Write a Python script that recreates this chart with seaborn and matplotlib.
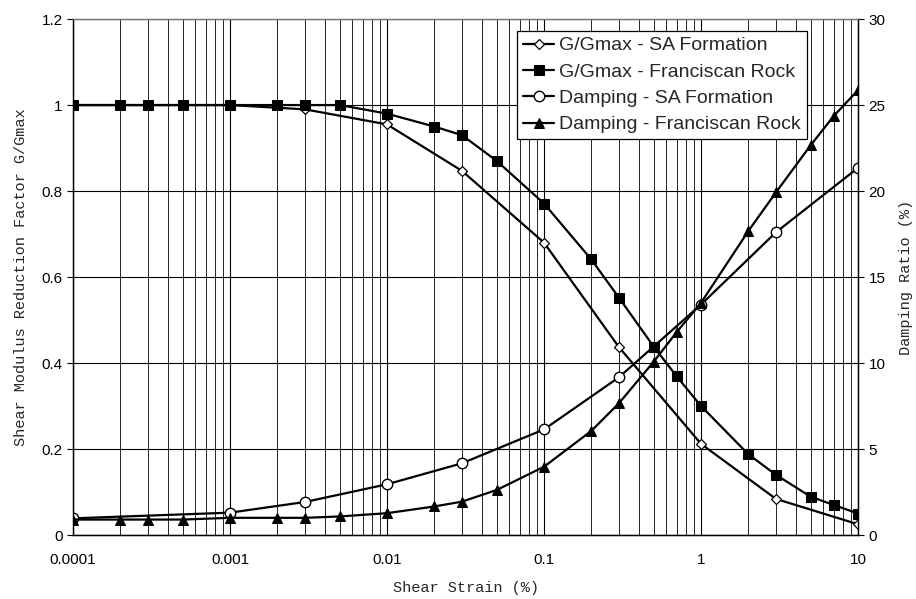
import matplotlib
matplotlib.use("Agg")
import matplotlib.pyplot as plt
import seaborn as sns
from matplotlib.ticker import FixedLocator, FixedFormatter, LogLocator, NullFormatter

# strain (%) for SA Formation curves
strain_sa = [0.0001, 0.001, 0.003, 0.01, 0.03, 0.1, 0.3, 1, 3, 10]
ggmax_sa = [1.0, 1.0, 0.99, 0.955, 0.847, 0.68, 0.437, 0.212, 0.084, 0.025]
damp_sa = [0.97, 1.3, 1.92, 2.95, 4.17, 6.14, 9.17, 13.4, 17.6, 21.35]

# strain (%) for Franciscan Rock curves
strain_fr = [0.0001, 0.0002, 0.0003, 0.0005, 0.001, 0.002, 0.003, 0.005,
             0.01, 0.02, 0.03, 0.05, 0.1, 0.2, 0.3, 0.5, 0.7, 1, 2, 3, 5, 7, 10]
ggmax_fr = [1.0, 1.0, 1.0, 1.0, 1.0, 1.0, 1.0, 1.0,
            0.98, 0.95, 0.93, 0.87, 0.771, 0.641, 0.552, 0.438, 0.369, 0.30,
            0.188, 0.14, 0.089, 0.07, 0.05]
damp_fr = [0.9, 0.9, 0.9, 0.9, 1.0, 1.0, 1.0, 1.08,
           1.27, 1.66, 1.94, 2.62, 3.97, 6.05, 7.66, 10.08, 11.8, 13.5,
           17.67, 19.92, 22.67, 24.36, 25.87]

x_ticks = [0.0001, 0.001, 0.01, 0.1, 1, 10]
x_labels = ["0.0001", "0.001", "0.01", "0.1", "1", "10"]
y_ticks = [0, 0.2, 0.4, 0.6, 0.8, 1.0, 1.2]
y_labels = ["0", "0.2", "0.4", "0.6", "0.8", "1", "1.2"]
y2_ticks = [0, 5, 10, 15, 20, 25, 30]

sns.set_style("white")
plt.rcParams["font.family"] = ["Liberation Sans", "DejaVu Sans"]

fig = plt.figure(figsize=(9.16, 5.99), dpi=100)
ax = fig.add_axes([0.0797, 0.1068, 0.8570, 0.8614])
ax.set_xscale("log")
ax.set_xlim(0.0001, 10)
ax.set_ylim(0, 1.2)
ax2 = ax.twinx()
ax2.set_ylim(0, 30)

# grid
ax.xaxis.set_major_locator(FixedLocator(x_ticks))
ax.xaxis.set_major_formatter(FixedFormatter(x_labels))
ax.xaxis.set_minor_locator(LogLocator(base=10, subs=range(2, 10), numticks=20))
ax.xaxis.set_minor_formatter(NullFormatter())
ax.yaxis.set_major_locator(FixedLocator(y_ticks))
ax.yaxis.set_major_formatter(FixedFormatter(y_labels))
ax.grid(True, which="major", axis="both", color="black", lw=0.8)
ax.grid(True, which="minor", axis="x", color="#222222", lw=0.7)
ax.set_axisbelow(True)

line_kw = dict(color="black", lw=1.6, markeredgecolor="black", legend=False)
sns.lineplot(x=strain_sa, y=ggmax_sa, ax=ax, marker="D", markersize=5,
             markerfacecolor="white", markeredgewidth=0.9, **line_kw)
sns.lineplot(x=strain_fr, y=ggmax_fr, ax=ax, marker="s", markersize=7.5,
             markerfacecolor="black", **line_kw)
sns.lineplot(x=strain_sa, y=damp_sa, ax=ax2, marker="o", markersize=7.5,
             markerfacecolor="white", markeredgewidth=1.0, **line_kw)
sns.lineplot(x=strain_fr, y=damp_fr, ax=ax2, marker="^", markersize=7.5,
             markerfacecolor="black", **line_kw)

ax2.yaxis.set_major_locator(FixedLocator(y2_ticks))

for a in (ax, ax2):
    for s in a.spines.values():
        s.set_color("black")
        s.set_linewidth(0.9)
    a.spines["top"].set_color("#777777")
    a.tick_params(axis="both", which="major", direction="out", length=4,
                  width=0.8, color="black", labelsize=11, labelcolor="black")
    a.tick_params(axis="both", which="minor", length=0)
ax.tick_params(axis="x", pad=9)

mono = ["Liberation Mono", "DejaVu Sans Mono"]
ax.set_xlabel("Shear Strain (%)", family=mono, fontsize=11, labelpad=10)
ax.set_ylabel("Shear Modulus Reduction Factor G/Gmax", family=mono, fontsize=11, labelpad=10)
ax2.set_ylabel("Damping Ratio (%)", family=mono, fontsize=11, labelpad=10)
ax2.set_xlabel("")

handles = ax.get_lines()[-2:] + ax2.get_lines()[-2:]
labels = ["G/Gmax - SA Formation", "G/Gmax - Franciscan Rock",
          "Damping - SA Formation", "Damping - Franciscan Rock"]
leg = ax2.legend(handles, labels, loc="upper left", bbox_to_anchor=(0.566, 0.977),
                 fontsize=14, frameon=True, fancybox=False, framealpha=1,
                 edgecolor="black", handlelength=1.6, handletextpad=0.25,
                 labelspacing=0.45, borderpad=0.3, borderaxespad=0)
leg.get_frame().set_linewidth(0.9)

fig.savefig("out.png", dpi=100)
